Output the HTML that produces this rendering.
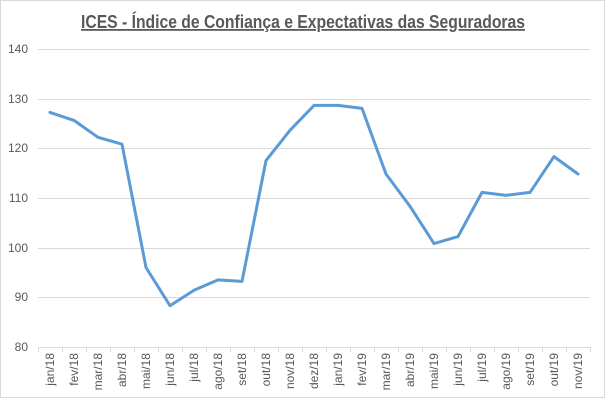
<!DOCTYPE html>
<html><head><meta charset="utf-8"><style>html,body{margin:0;padding:0;background:#fff}svg{display:block}</style></head>
<body>
<svg width="606" height="404" xmlns="http://www.w3.org/2000/svg" font-family="Liberation Sans, sans-serif">
<rect x="0.5" y="0.5" width="604" height="397" fill="#fff" stroke="#d9d9d9"/>
<text x="303" y="28" text-anchor="middle" font-size="18" font-weight="bold" fill="#595959" text-decoration="underline" textLength="444" lengthAdjust="spacingAndGlyphs">ICES - Índice de Confiança e Expectativas das Seguradoras</text>
<g stroke="#d9d9d9" stroke-width="1">
<line x1="38" y1="49.5" x2="590" y2="49.5"/>
<line x1="38" y1="99.5" x2="590" y2="99.5"/>
<line x1="38" y1="148.5" x2="590" y2="148.5"/>
<line x1="38" y1="198.5" x2="590" y2="198.5"/>
<line x1="38" y1="248.5" x2="590" y2="248.5"/>
<line x1="38" y1="297.5" x2="590" y2="297.5"/>
<line x1="38" y1="347.5" x2="590" y2="347.5"/>
</g>
<g stroke="#d9d9d9">
<path d="M38.5 347v5M62.5 347v5M86.5 347v5M110.5 347v5M134.5 347v5M158.5 347v5M182.5 347v5M206.5 347v5M230.5 347v5M254.5 347v5M278.5 347v5M302.5 347v5M326.5 347v5M350.5 347v5M374.5 347v5M398.5 347v5M422.5 347v5M446.5 347v5M470.5 347v5M494.5 347v5M518.5 347v5M542.5 347v5M566.5 347v5M590.5 347v5"/>
</g>
<g font-size="12" fill="#595959" text-anchor="end">
<text x="28" y="53">140</text><text x="28" y="103">130</text><text x="28" y="152">120</text><text x="28" y="202">110</text><text x="28" y="252">100</text><text x="28" y="301">90</text><text x="28" y="351">80</text>
</g>
<g font-size="12" fill="#595959" text-anchor="end">
<text transform="translate(54,353) rotate(-90)">jan/18</text>
<text transform="translate(78,353) rotate(-90)">fev/18</text>
<text transform="translate(102,353) rotate(-90)">mar/18</text>
<text transform="translate(126,353) rotate(-90)">abr/18</text>
<text transform="translate(150,353) rotate(-90)">mai/18</text>
<text transform="translate(174,353) rotate(-90)">jun/18</text>
<text transform="translate(198,353) rotate(-90)">jul/18</text>
<text transform="translate(222,353) rotate(-90)">ago/18</text>
<text transform="translate(246,353) rotate(-90)">set/18</text>
<text transform="translate(270,353) rotate(-90)">out/18</text>
<text transform="translate(294,353) rotate(-90)">nov/18</text>
<text transform="translate(318,353) rotate(-90)">dez/18</text>
<text transform="translate(342,353) rotate(-90)">jan/19</text>
<text transform="translate(366,353) rotate(-90)">fev/19</text>
<text transform="translate(390,353) rotate(-90)">mar/19</text>
<text transform="translate(414,353) rotate(-90)">abr/19</text>
<text transform="translate(438,353) rotate(-90)">mai/19</text>
<text transform="translate(462,353) rotate(-90)">jun/19</text>
<text transform="translate(486,353) rotate(-90)">jul/19</text>
<text transform="translate(510,353) rotate(-90)">ago/19</text>
<text transform="translate(534,353) rotate(-90)">set/19</text>
<text transform="translate(558,353) rotate(-90)">out/19</text>
<text transform="translate(582,353) rotate(-90)">nov/19</text>
</g>
<polyline fill="none" stroke="#5b9bd5" stroke-width="3" stroke-linejoin="round" stroke-linecap="round"
points="50,112.4 74,120.4 98,137.3 122,144.2 146,267.5 170,305.7 194,290.3 218,279.9 242,281.4 266,160.6 290,130.3 314,105.4 338,105.4 362,108.4 386,174 410,206.3 434,243.6 458,236.6 482,192.4 506,195.4 530,192.4 554,156.6 578,174"/>
</svg>
</body></html>
